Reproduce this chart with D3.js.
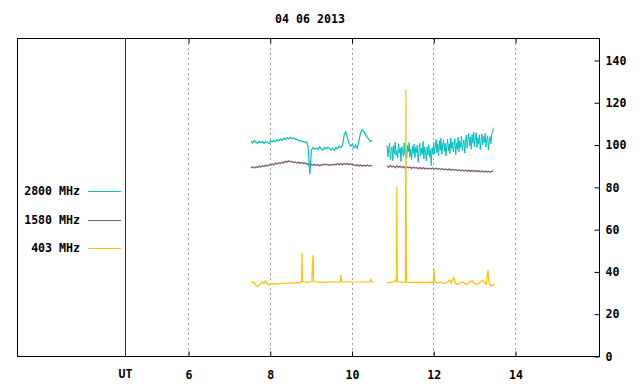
<!DOCTYPE html>
<html>
<head>
<meta charset="utf-8">
<script src="https://cdn.jsdelivr.net/npm/d3@7"></script>
<style>
  html, body { margin: 0; padding: 0; background: #fff; }
  text { font-family: "DejaVu Sans Mono", monospace; font-weight: bold; font-size: 11.6px; fill: #000; }
</style>
</head>
<body>
<svg id="chart" width="640" height="384"></svg>
<script>
// ============ Data ============
const title = '04 06 2013';
const xTicks = [6, 8, 10, 12, 14];
const yTicks = [0, 20, 40, 60, 80, 100, 120, 140];
const utHour = 4.46;

const seriesNames  = ['2800 MHz', '1580 MHz', '403 MHz'];
const seriesColors = ['#00bfbf', '#7f5f7f', '#ffc000'];

// 2800 / 1580 MHz are sampled on a regular grid (hours): start, step
const segStart = [7.54, 10.87];
const stepA  = 0.04;   // first segment, both series
const stepB  = 0.02;   // second segment, 2800 MHz
const stepB2 = 0.04;   // second segment, 1580 MHz

const v2800a = [
  101.5, 100.8, 101.9, 101.2, 100.6, 101.6, 100.9, 101.4, 100.5, 101.3,
  101.0, 100.4, 101.8, 101.2, 102.0, 101.4, 102.3, 101.7, 102.6, 102.0,
  103.0, 102.4, 103.3, 102.8, 103.4, 102.7, 103.1, 102.5, 102.6, 101.9,
  102.0, 101.4, 101.6, 100.9, 101.2, 99.0, 86.0, 97.5, 98.6, 97.8,
  98.4, 97.6, 98.9, 98.0, 97.4, 98.6, 97.9, 98.8, 98.1, 97.5,
  98.3, 97.2, 98.6, 98.0, 99.2, 98.5, 99.5, 104.5, 106.0, 103.2,
  100.5, 99.2, 100.3, 98.4, 99.6, 98.2, 101.5, 105.5, 107.0, 106.2,
  104.8, 103.5, 102.6, 101.4, 102.0
];
const v2800b = [
  99.8, 94.2, 97.5, 100.6, 93.0, 96.8, 98.9, 92.4, 99.5, 95.6,
  101.2, 94.8, 97.2, 93.6, 100.4, 96.0, 98.4, 92.0, 99.0, 97.4,
  94.4, 100.8, 95.2, 98.0, 93.4, 99.6, 96.6, 101.0, 94.0, 97.8,
  92.8, 99.2, 95.8, 100.2, 93.8, 98.6, 96.2, 99.8, 91.6, 97.0,
  100.6, 94.6, 98.2, 95.4, 101.4, 93.2, 99.0, 96.4, 92.2, 98.8,
  95.0, 100.0, 94.2, 97.6, 90.0, 98.4, 95.6,
  101.0, 95.6, 99.4, 102.4, 96.2, 100.2, 94.8, 101.8, 97.4, 103.0,
  95.4, 99.8, 102.0, 96.8, 100.6, 94.6, 98.8, 102.6, 97.0, 100.4,
  95.8, 103.2, 98.2, 101.2, 96.4, 99.6, 102.8, 95.2, 100.8, 97.8,
  103.4, 96.6, 101.6, 98.6, 104.0, 97.2, 100.0, 102.2, 96.0, 101.4,
  104.4, 98.2, 102.6, 105.2, 99.4, 103.6, 97.8, 104.8, 100.6, 106.0,
  99.0, 102.8, 105.6, 98.6, 103.2, 100.2, 104.6, 97.6, 102.0, 105.0,
  99.8, 103.8, 101.0, 105.4, 98.8, 102.4, 104.2, 97.4, 101.6, 103.8,
  100.4, 104.8, 106.2, 108.0
];
const v1580a = [
  89.0, 89.4, 88.9, 89.5, 89.2, 89.8, 89.4, 90.0, 89.6, 90.2,
  89.9, 90.5, 90.2, 90.8, 90.4, 91.2, 90.8, 91.4, 91.0, 91.6,
  91.3, 92.1, 91.7, 92.3, 91.8, 92.0, 91.5, 91.8, 91.3, 91.6,
  91.2, 91.5, 91.0, 91.3, 90.8, 90.9, 89.5, 90.6, 90.2, 90.7,
  90.1, 90.6, 90.0, 90.5, 90.2, 90.8, 90.3, 90.7, 90.1, 90.6,
  90.2, 90.8, 90.4, 91.0, 90.5, 90.9, 90.4, 91.1, 90.6, 91.0,
  90.5, 90.8, 90.3, 90.6, 90.0, 90.4, 89.9, 90.3, 89.8, 90.2,
  89.9, 90.3, 89.8, 90.1, 89.9
];
const v1580b = [
  90.0, 89.2, 90.1, 89.4, 89.8, 89.0, 89.9, 89.3, 89.7, 89.1,
  89.6, 88.9, 89.5, 89.0, 89.4, 88.7, 89.3, 88.9, 89.2, 88.6,
  89.1, 88.6, 89.0, 88.5, 88.9, 88.4, 88.8, 88.5, 88.9, 88.3,
  88.8, 88.3, 88.7, 88.2, 88.6, 88.1, 88.5, 88.0, 88.4, 87.9,
  88.3, 87.8, 88.2, 87.7, 88.1, 87.6, 88.0, 87.5, 87.9, 87.4,
  87.9, 87.3, 87.8, 87.2, 87.7, 87.3, 87.6, 87.1, 87.5, 87.0,
  87.5, 87.0, 87.4, 86.9, 87.3, 87.5
];

// 403 MHz has narrow spikes, so times are listed explicitly (null = gap)
const t403 = [
  7.54, 7.58, 7.62, 7.66, 7.70, 7.74, 7.78, 7.82, 7.86, 7.90,
  7.94, 7.98, 8.02, 8.06, 8.10, 8.14, 8.20, 8.26, 8.32, 8.38,
  8.44, 8.50, 8.56, 8.62, 8.68, 8.74, 8.78, 8.79, 8.80, 8.86,
  8.92, 8.98, 9.03, 9.04, 9.06, 9.07, 9.12, 9.20, 9.30, 9.40,
  9.50, 9.60, 9.72, 9.74, 9.76, 9.85, 9.95, 10.05, 10.15, 10.25,
  10.35, 10.45, 10.48, 10.50, 10.53, 10.70,
  10.87, 10.94, 11.00, 11.05, 11.08, 11.10, 11.11, 11.12, 11.20, 11.26,
  11.32, 11.33, 11.34, 11.35, 11.45, 11.55, 11.65, 11.75, 11.85, 11.95,
  12.00, 12.02, 12.04, 12.10, 12.20, 12.28, 12.34, 12.40, 12.44, 12.50,
  12.54, 12.60, 12.66, 12.72, 12.78, 12.84, 12.90, 12.96, 13.00, 13.06,
  13.12, 13.18, 13.22, 13.26, 13.30, 13.34, 13.36, 13.40, 13.44, 13.48,
  13.50
];
const v403 = [
  35.2, 34.6, 35.0, 33.4, 32.8, 33.6, 34.0, 35.0, 34.4, 35.6,
  34.2, 33.8, 34.0, 34.3, 33.8, 34.2, 34.0, 34.4, 34.2, 34.6,
  34.3, 34.7, 34.4, 34.6, 34.8, 34.5, 35.5, 48.7, 35.2, 35.0,
  34.8, 35.0, 35.0, 41.6, 47.8, 35.4, 35.0, 34.9, 35.0, 34.8,
  35.0, 35.1, 35.0, 38.3, 35.0, 35.0, 35.1, 35.0, 35.0, 35.0,
  35.0, 35.2, 36.3, 35.0, 34.8, null,
  34.6, 34.8, 34.9, 35.2, 36.0, 35.0, 80.0, 35.2, 35.0, 34.8,
  35.0, 126.0, 47.8, 35.0, 34.8, 34.9, 34.7, 34.8, 34.7, 34.9,
  34.8, 41.0, 35.0, 34.6, 34.9, 34.2, 34.8, 35.9, 34.5, 37.2,
  34.4, 33.8, 34.6, 35.0, 34.2, 33.9, 35.2, 35.6, 34.4, 33.8,
  34.4, 35.3, 35.8, 34.5, 34.0, 40.7, 35.2, 33.4, 33.2, 33.8,
  34.0
];

// ============ Chart ============
const L = 17, R = 599, T = 38, B = 356;

const svg = d3.select('#chart');
const x = d3.scaleLinear().domain([1.816, 16.055]).range([L, R]);
const y = d3.scaleLinear().domain([0, 150.4]).range([B, T]);

// dotted grid
svg.append('g').selectAll('line')
  .data(xTicks).enter().append('line')
  .attr('x1', d => Math.round(x(d)) + 0.5).attr('x2', d => Math.round(x(d)) + 0.5)
  .attr('y1', T).attr('y2', B)
  .attr('stroke', '#a0a0a0')
  .attr('stroke-dasharray', '2,3');

// UT line
svg.append('line')
  .attr('x1', Math.round(x(utHour)) + 0.5).attr('x2', Math.round(x(utHour)) + 0.5)
  .attr('y1', T).attr('y2', B)
  .attr('stroke', '#8b0000');

// axes
const xBottom = svg.append('g')
  .attr('transform', `translate(0.5,${B + 0.5})`)
  .call(d3.axisBottom(x).tickValues(xTicks).tickSize(-5).tickPadding(14).tickFormat(d3.format('d')));
const xTop = svg.append('g')
  .attr('transform', `translate(0.5,${T + 0.5})`)
  .call(d3.axisTop(x).tickValues(xTicks).tickSize(-5).tickFormat(''));
const yRight = svg.append('g')
  .attr('transform', `translate(${R + 0.5},0.5)`)
  .call(d3.axisRight(y).tickValues(yTicks).tickSize(-5).tickPadding(6));

[xBottom, xTop, yRight].forEach(g => {
  g.select('.domain').remove();
  g.selectAll('.tick line').attr('stroke', '#000');
  g.selectAll('text').attr('font-family', null).attr('font-size', null).attr('fill', '#000');
});
yRight.selectAll('text').attr('text-anchor', 'start');

// UT label
svg.append('text')
  .attr('x', x(utHour) + 0.5).attr('y', B + 14)
  .attr('dy', '0.71em')
  .attr('text-anchor', 'middle')
  .text('UT');

// frame
svg.append('rect')
  .attr('x', L + 0.5).attr('y', T + 0.5)
  .attr('width', R - L).attr('height', B - T)
  .attr('fill', 'none').attr('stroke', '#000');

// title
svg.append('text')
  .attr('x', 310).attr('y', 23)
  .attr('text-anchor', 'middle')
  .text(title);

// ── series lines ──
const line = d3.line()
  .defined(d => d[1] != null)
  .x(d => x(d[0]))
  .y(d => y(d[1]));

function regular(start, step, vals) {
  return vals.map((v, i) => [start + i * step, v]);
}

const plotG = svg.append('g');
const paths = [
  [regular(segStart[0], stepA, v1580a), 1, 1.3],
  [regular(segStart[1], stepB2, v1580b), 1, 1.3],
  [regular(segStart[0], stepA, v2800a), 0, 1.2],
  [regular(segStart[1], stepB, v2800b), 0, 1],
  [t403.map((t, i) => [t, v403[i]]), 2, 1.2]
];
paths.forEach(([pts, k, w]) => {
  plotG.append('path')
    .attr('d', line(pts))
    .attr('fill', 'none')
    .attr('stroke', seriesColors[k])
    .attr('stroke-width', w);
});

// ── legend ──
const legendY = [191, 220, 248];
const legend = svg.append('g').selectAll('g')
  .data(seriesNames).enter().append('g')
  .attr('transform', (d, i) => `translate(0,${legendY[i]})`);
legend.append('text')
  .attr('x', 80).attr('dy', '0.35em')
  .attr('text-anchor', 'end')
  .text(d => d);
legend.append('line')
  .attr('x1', 88).attr('x2', 121)
  .attr('y1', 0.5).attr('y2', 0.5)
  .attr('stroke', (d, i) => seriesColors[i]);
</script>
</body>
</html>
